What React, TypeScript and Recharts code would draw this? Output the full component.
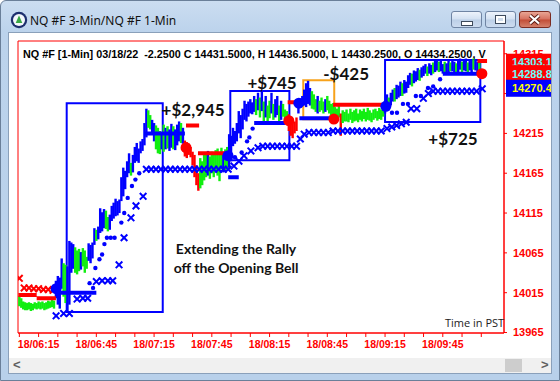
import React from 'react';
import { ComposedChart, Bar, Line, Scatter, XAxis, YAxis, ReferenceArea, ReferenceDot } from 'recharts';

// minute of day of the first 1-min bar (06:05)
const firstMinute = 365;

const barHigh = [
  14011, 14008, 14004, 14003, 14002, 14003, 14002, 14001, 14003, 14002, 14004, 14003, 14004, 14002, 14003, 14005, 14004, 14006, 14005,
  14030, 14036, 14034, 14058, 14052, 14050, 14048, 14080, 14078, 14076, 14072, 14068, 14070, 14066, 14071, 14068, 14060, 14077, 14075, 14078,
  14096, 14094, 14098, 14121, 14116, 14120, 14118, 14110, 14113, 14124, 14128, 14133, 14130, 14132, 14160, 14172, 14168, 14180, 14190, 14178,
  14188, 14198, 14203, 14196, 14205, 14208, 14228, 14246, 14244, 14238, 14232, 14228, 14225, 14222, 14218, 14215,
  14226, 14222, 14224, 14220, 14227, 14224, 14220, 14226, 14230, 14228, 14222, 14206, 14204, 14202, 14198, 14192, 14188, 14175, 14165, 14184,
  14180, 14188, 14190, 14193, 14186, 14192, 14188, 14194, 14196, 14190, 14197, 14192, 14195, 14198, 14214, 14212, 14222, 14218, 14228, 14243,
  14238, 14246, 14256, 14252, 14255, 14258, 14254, 14262, 14258, 14266, 14260, 14268, 14255, 14262, 14250, 14256, 14266, 14252, 14258, 14262,
  14250, 14256, 14252, 14245, 14243, 14239, 14236, 14232, 14230, 14235, 14255, 14259, 14262, 14270, 14278, 14281, 14272, 14268, 14264, 14258,
  14262, 14256, 14260, 14255, 14258, 14262, 14256, 14252, 14253, 14248, 14246, 14250, 14240, 14244, 14242, 14245, 14240, 14246, 14242, 14244,
  14246, 14240, 14245, 14243, 14246, 14242, 14247, 14244, 14241, 14245, 14246, 14243, 14247, 14245, 14248, 14256, 14264, 14260, 14266, 14270,
  14272, 14276, 14275, 14280, 14278, 14282, 14280, 14288, 14291, 14290, 14294, 14293, 14297, 14295, 14298, 14300, 14302, 14299, 14303, 14301,
  14304, 14306, 14308, 14305, 14307, 14302, 14305, 14303, 14306, 14304, 14308, 14305, 14303, 14306, 14309, 14305, 14307, 14309, 14304, 14308,
  14306, 14309, 14307, 14305, 14304,
];

const barLow = [
  13998, 13996, 13994, 13993, 13993, 13994, 13992, 13993, 13995, 13994, 13995, 13994, 13995, 13993, 13994, 13995, 13996, 13997, 13995,
  14008, 14000, 13995, 14020, 14010, 14002, 13992, 14000, 14040, 14045, 14040, 14038, 14042, 14044, 14048, 14040, 14045, 14055, 14052, 14058,
  14075, 14080, 14082, 14090, 14092, 14096, 14095, 14092, 14094, 14105, 14108, 14111, 14112, 14115, 14130, 14136, 14145, 14160, 14165, 14162,
  14166, 14178, 14180, 14178, 14190, 14193, 14200, 14210, 14222, 14220, 14214, 14205, 14195, 14190, 14189, 14195,
  14192, 14195, 14196, 14193, 14197, 14195, 14194, 14200, 14205, 14203, 14202, 14186, 14184, 14188, 14185, 14175, 14160, 14150, 14143, 14146,
  14150, 14156, 14160, 14162, 14158, 14165, 14160, 14168, 14162, 14155, 14170, 14166, 14168, 14170, 14172, 14180, 14199, 14202, 14205, 14215,
  14209, 14220, 14232, 14230, 14236, 14240, 14239, 14242, 14238, 14244, 14235, 14243, 14228, 14235, 14230, 14234, 14240, 14232, 14235, 14238,
  14230, 14232, 14236, 14232, 14230, 14218, 14212, 14209, 14215, 14218, 14240, 14247, 14250, 14250, 14248, 14252, 14250, 14246, 14245, 14242,
  14240, 14242, 14244, 14240, 14242, 14244, 14240, 14238, 14230, 14227, 14232, 14235, 14212, 14228, 14230, 14230, 14229, 14232, 14228, 14230,
  14231, 14229, 14232, 14230, 14233, 14230, 14232, 14231, 14229, 14232, 14234, 14231, 14233, 14232, 14236, 14240, 14243, 14245, 14250, 14255,
  14255, 14258, 14260, 14262, 14262, 14265, 14266, 14272, 14276, 14274, 14278, 14280, 14282, 14281, 14285, 14287, 14290, 14287, 14290, 14288,
  14290, 14292, 14294, 14292, 14293, 14290, 14291, 14289, 14292, 14293, 14293, 14291, 14290, 14292, 14295, 14292, 14294, 14293, 14291, 14294,
  14292, 14295, 14294, 14292, 14293,
];

// g = green, b = blue, r = red bar
const barColor =
  'ggggggggggggggggggg' +
  'bbbbggbbbbgggbgggbbbbgbbbbggbbbbbbbbbbbgbbbbbbbbggbbgggb' +
  'gbgbbgbbbgbrrrrrrrrggggbgggggggbggbbbbbbbbbbbbbbgbgbgbggbgbb' +
  'gbgggrrrrrbbbbbbbgggbgggbgggggggrggggggggggggggggggggggbbgbb' +
  'gbbbgbbbbgbbbgbbbgbbgbbgbbgbbgbbgbbgbbgbbgbbg';

const yTicks = [13965, 14015, 14065, 14115, 14165, 14215, 14265, 14315];
// 14265 sits under the last-value badges
const yTickLabels = ['13965', '14015', '14065', '14115', '14165', '14215', '', '14315'];
const xTicks = [365, 375, 385, 395, 405, 415, 425, 435, 445, 455, 465, 475, 485, 495, 505, 515, 525, 535, 545, 555, 565, 575, 585, 595, 605];
const xTickLabels = ['', '18/06:15', '', '', '18/06:45', '', '', '18/07:15', '', '', '18/07:45', '', '', '18/08:15', '', '', '18/08:45', '', '', '18/09:15', '', '', '18/09:45', '', ''];

// stop lines: [from minute, to minute, price]
const redStops = [[364.5, 374, 14012], [374, 384, 14008], [451.6, 458.4, 14225], [457.8, 472.5, 14190], [504.4, 511, 14254], [528, 555, 14251], [603, 608, 14306]];
const blueStops = [[384, 405, 14015], [430, 451, 14215], [473.5, 479, 14160], [487, 503, 14228], [510.5, 527, 14234], [585, 603.5, 14290]];

// trailing dots [minute, price]
const blueDots = [
  [401.5, 14027], [403.3, 14021], [404.5, 14046], [406.6, 14057], [408, 14063], [409.2, 14076], [410.5, 14084], [412.5, 14084], [414.5, 14084],
  [418, 14103], [419.5, 14115], [421.3, 14134], [423.5, 14149], [425.3, 14157], [427.3, 14165],
  [477, 14185], [480.5, 14191], [483.3, 14205], [484.5, 14210], [486.2, 14221],
  [558.6, 14241], [561.2, 14241], [564.3, 14252], [566.9, 14252], [571, 14262], [573.6, 14262], [577.3, 14272], [580, 14274], [583.6, 14283],
];

// 3-min stop crosses [minute, price]
const blueCrosses = [
  [384.1, 13986], [388, 13989], [391, 13989], [395, 14007], [398, 14008], [400.5, 14008], [405, 14029], [408, 14030], [411, 14030], [413.5, 14030],
  [416.8, 14050], [419.4, 14084], [423, 14109], [425.6, 14124], [429.3, 14136],
  [431, 14170], [433.5, 14170], [436, 14170], [438.5, 14170], [441, 14170], [443.5, 14170], [446, 14170], [448.5, 14170], [451, 14170],
  [453.5, 14170], [456, 14170], [458.5, 14170], [461, 14170], [463.5, 14170], [466, 14170], [468.5, 14170], [471, 14170], [473.5, 14170],
  [476.5, 14174], [479.1, 14180], [481.7, 14187], [485.3, 14193], [489, 14197],
  [491.5, 14199], [494, 14199], [496.5, 14199], [499, 14199], [501.5, 14199], [504, 14199], [506.5, 14199], [509, 14199],
  [511, 14208], [513, 14214], [515.5, 14216], [518, 14216], [520.5, 14216], [523, 14216], [525.5, 14216],
  [528, 14218], [530.5, 14218], [533, 14218], [535.5, 14218], [538, 14218], [540.5, 14218], [543, 14218], [545.5, 14218], [548, 14218], [550.5, 14218], [553, 14218],
  [556, 14221], [558.5, 14223], [561, 14225], [563.5, 14227], [566, 14229], [568.5, 14246], [571.5, 14246], [574.9, 14259], [577.5, 14265],
  [580, 14268], [582.5, 14268], [585, 14268], [587.5, 14268], [590, 14268], [592.5, 14268], [595, 14268], [597.5, 14268], [600, 14268], [602.5, 14268], [605.5, 14271],
];
const redCrosses = [[365, 14033], [367.5, 14021], [370, 14021], [372.5, 14020], [375, 14020], [377.5, 14019], [380, 14019], [382.5, 14018]];

const entries = [[384.1, 14020], [473.4, 14187], [510.2, 14253], [555.4, 14249]];
const exits = [[451.6, 14197], [505, 14231], [528.4, 14233], [605.3, 14290]];

// trade boxes: minute from/to, price low/high
const trades = [
  { x1: 389.6, x2: 439.5, y1: 13990.8, y2: 14252.8, color: '#0000ff' },
  { x1: 474.6, x2: 505.3, y1: 14181.2, y2: 14268.2, color: '#0000ff' },
  { x1: 512.5, x2: 528.6, y1: 14232.7, y2: 14281.7, color: '#f7a21b' },
  { x1: 555, x2: 604.5, y1: 14229.3, y2: 14307.2, color: '#0000ff' },
];
const profits = [
  { t: 455.3, p: 14245.6, text: '+$2,945' },
  { t: 496.3, p: 14279.5, text: '+$745' },
  { t: 534.8, p: 14290.8, text: '-$425' },
  { t: 590.3, p: 14208, text: '+$725' },
];

const lastValues = [
  { p: 14303.1, text: '14303.1', bg: '#ff0000', fg: '#66ffff' },
  { p: 14288.8, text: '14288.8', bg: '#ff0000', fg: '#66ffff' },
  { p: 14270.4, text: '14270.4', bg: '#0000ff', fg: '#ffff00' },
];

const xDomain = [364.3, 616.8];
const yDomain = [13964.4, 14331];

const colorOf: Record<string, string> = { g: '#11ee11', b: '#0000ff', r: '#ff0000' };

const bars = barHigh.map((h, i) => ({ t: firstMinute + i, range: [barLow[i], h], c: barColor[i] }));
const toLine = (segs: number[][]) => segs.flatMap(([a, b, p]) => [{ t: a, p }, { t: b, p }, { t: b, p: null }]);
const toPoints = (pts: number[][]) => pts.map(([t, p]) => ({ t, p }));

// draw each 1-min bar as a 2.4px stroke centred on its minute
const PriceBar = (props: any) => {
  const { x, y, width, height, payload } = props;
  if (x == null || y == null) return null;
  const top = height < 0 ? y + height : y;
  return <rect x={x + width / 2 - 1.2} y={top} width={2.4} height={Math.max(Math.abs(height), 1)} fill={colorOf[payload.c]} />;
};

const cross = (color: string) => (props: any) => {
  const { cx, cy } = props;
  const s = 3.3;
  return <path d={`M${cx - s},${cy - s}L${cx + s},${cy + s}M${cx + s},${cy - s}L${cx - s},${cy + s}`} stroke={color} strokeWidth={2} fill="none" />;
};
const dot = (color: string, r: number) => (props: any) => <circle cx={props.cx} cy={props.cy} r={r} fill={color} />;

const note = (text: string) => (props: any) => (
  <text x={props.cx} y={props.cy} textAnchor="middle" dominantBaseline="central" fontFamily="Lato, 'Open Sans', sans-serif" fontWeight={700} fontSize={17} fill="#111">
    {text}
  </text>
);

const badge = (text: string, bg: string, fg: string) => (props: any) => (
  <g>
    <rect x={props.cx + 2} y={props.cy - 9.5} width={60} height={17} fill={bg} />
    <text x={props.cx + 8} y={props.cy - 1} dominantBaseline="central" fontFamily="'Liberation Sans', Arial, sans-serif" fontWeight={700} fontSize={11} fill={fg}>
      {text}
    </text>
  </g>
);

const rallyNote = (props: any) => (
  <text x={props.cx} y={props.cy} textAnchor="middle" fontFamily="Lato, 'Open Sans', sans-serif" fontWeight={700} fontSize={14} fill="#111">
    <tspan x={props.cx} dy={-5}>Extending the Rally</tspan>
    <tspan x={props.cx} dy={19}>off the Opening Bell</tspan>
  </text>
);

function TitleButton({ left, width, kind }: { left: number; width: number; kind: string }) {
  const isClose = kind === 'close';
  return (
    <div
      style={{
        position: 'absolute', left, top: 10, width, height: 17, boxSizing: 'border-box', borderRadius: 3,
        border: isClose ? '1px solid #7b2c22' : '1px solid #6f84a3',
        background: isClose
          ? 'linear-gradient(#e9a594, #d6715f 48%, #c24d36 52%, #d4806b)'
          : 'linear-gradient(#edf3fb, #d3e1f2 48%, #bccfe7 52%, #cddcf0)',
      }}
    >
      {kind === 'min' && <div style={{ position: 'absolute', left: 9, top: 9, width: 10, height: 3, background: '#fff', border: '1px solid #3d4a5c' }} />}
      {kind === 'max' && <div style={{ position: 'absolute', left: 9, top: 3, width: 9, height: 7, background: '#fff', border: '1px solid #3d4a5c' }}><div style={{ margin: 2, width: 5, height: 3, background: '#cfdcec' }} /></div>}
      {isClose && (
        <svg width={width - 2} height={15} style={{ position: 'absolute', left: 0, top: 0 }}>
          <path d="M10,3.5L19,11.5M19,3.5L10,11.5" stroke="#5a1d16" strokeWidth={4} />
          <path d="M10,3.5L19,11.5M19,3.5L10,11.5" stroke="#fff" strokeWidth={2.2} />
        </svg>
      )}
    </div>
  );
}

export default function App() {
  return (
    <div
      style={{
        position: 'absolute', left: 0, top: 0, width: 560, height: 381, overflow: 'hidden', boxSizing: 'border-box',
        border: '1px solid #6a7f99', borderRadius: '6px 6px 0 0',
        background: 'linear-gradient(#cbddf1, #bcd3ec 30px, #b8d0ea)',
        fontFamily: "'Liberation Sans', Arial, sans-serif",
      }}
    >
      {/* title bar */}
      <svg width={18} height={18} style={{ position: 'absolute', left: 9, top: 10 }}>
        <circle cx={9} cy={9} r={8.2} fill="#1d2f6e" />
        <circle cx={9} cy={9} r={6} fill="#f4f7fb" />
        <path d="M9,4.5L12.3,12H5.7Z" fill="#3aa845" />
      </svg>
      <div style={{ position: 'absolute', left: 29, top: 11, fontFamily: "'Noto Sans', sans-serif", fontSize: 12, color: '#111', whiteSpace: 'nowrap' }}>
        NQ #F 3-Min/NQ #F 1-Min
      </div>
      <TitleButton left={450} width={31} kind="min" />
      <TitleButton left={484} width={31} kind="max" />
      <TitleButton left={518} width={32} kind="close" />

      {/* client area */}
      <div style={{ position: 'absolute', left: 7, top: 31, width: 544, height: 342, boxSizing: 'border-box', border: '1px solid #8aa0ba', background: '#fff' }} />
      <div style={{ position: 'absolute', left: 8, top: 357, width: 542, height: 15, background: '#f0f0f0' }} />
      <div style={{ position: 'absolute', left: 504, top: 358, width: 17, height: 13, background: '#cdcdcd' }} />
      <div style={{ position: 'absolute', left: 12, top: 356, fontSize: 13, fontWeight: 700, color: '#606060' }}>&lt;</div>
      <div style={{ position: 'absolute', left: 540, top: 356, fontSize: 13, fontWeight: 700, color: '#606060' }}>&gt;</div>

      <div style={{ position: 'absolute', left: 0, top: 0, width: 550, height: 357, overflow: 'hidden' }}>
        <ComposedChart width={560} height={381} data={bars} margin={{ top: 40, right: 7, bottom: 24, left: 17 }}>
          <XAxis
            dataKey="t" type="number" domain={xDomain} allowDataOverflow ticks={xTicks} interval={0}
            tickFormatter={(v: number) => xTickLabels[xTicks.indexOf(v)] ?? ''}
            height={25} tickSize={4} tickMargin={4} stroke="#ff0000"
            tick={{ fill: '#ff0000', fontSize: 10.5, fontWeight: 700, fontFamily: "'Liberation Sans', Arial" }}
          />
          <YAxis
            dataKey="p" type="number" orientation="right" domain={yDomain} allowDataOverflow ticks={yTicks} interval={0}
            tickFormatter={(v: number) => yTickLabels[yTicks.indexOf(v)] ?? ''}
            width={50} tickSize={3} tickMargin={6} stroke="#ff0000"
            tick={{ fill: '#ff0000', fontSize: 11, fontWeight: 700, fontFamily: "'Liberation Sans', Arial" }}
          />
          <ReferenceArea x1={xDomain[0]} x2={xDomain[1]} y1={yDomain[0]} y2={yDomain[1]} stroke="#ff0000" fill="none" fillOpacity={0} />
          {trades.map((b, i) => (
            <ReferenceArea key={i} x1={b.x1} x2={b.x2} y1={b.y1} y2={b.y2} stroke={b.color} strokeWidth={2} fill="none" fillOpacity={0} />
          ))}
          <Bar dataKey="range" barSize={2} shape={PriceBar} isAnimationActive={false} />
          <Line data={toLine(redStops)} dataKey="p" stroke="#ff0000" strokeWidth={4} dot={false} isAnimationActive={false} connectNulls={false} />
          <Line data={toLine(blueStops)} dataKey="p" stroke="#0000ff" strokeWidth={4} dot={false} isAnimationActive={false} connectNulls={false} />
          <Scatter data={toPoints(blueDots)} shape={dot('#0000ff', 2.2)} isAnimationActive={false} />
          <Scatter data={toPoints(blueCrosses)} shape={cross('#0000ff')} isAnimationActive={false} />
          <Scatter data={toPoints(redCrosses)} shape={cross('#ff0000')} isAnimationActive={false} />
          <Scatter data={toPoints(entries)} shape={dot('#0000ff', 5.5)} isAnimationActive={false} />
          <Scatter data={toPoints(exits)} shape={dot('#ff0000', 5.5)} isAnimationActive={false} />
          {profits.map((n, i) => (
            <ReferenceDot key={i} x={n.t} y={n.p} shape={note(n.text)} ifOverflow="visible" />
          ))}
          <ReferenceDot x={477.6} y={14056.7} shape={rallyNote} ifOverflow="visible" />
          {lastValues.map((v, i) => (
            <ReferenceDot key={i} x={xDomain[1]} y={v.p} shape={badge(v.text, v.bg, v.fg)} ifOverflow="visible" />
          ))}
        </ComposedChart>
      </div>

      <div style={{ position: 'absolute', left: 22, top: 47, width: 463, overflow: 'hidden', whiteSpace: 'pre', fontSize: 10.8, fontWeight: 700, color: '#000', lineHeight: '12px' }}>
        NQ #F [1-Min] 03/18/22  -2.2500 C 14431.5000, H 14436.5000, L 14430.2500, O 14434.2500, V
      </div>
      <div style={{ position: 'absolute', left: 444, top: 314, fontFamily: "'Open Sans', sans-serif", fontSize: 11, color: '#222', whiteSpace: 'nowrap' }}>
        Time in PST
      </div>
    </div>
  );
}
